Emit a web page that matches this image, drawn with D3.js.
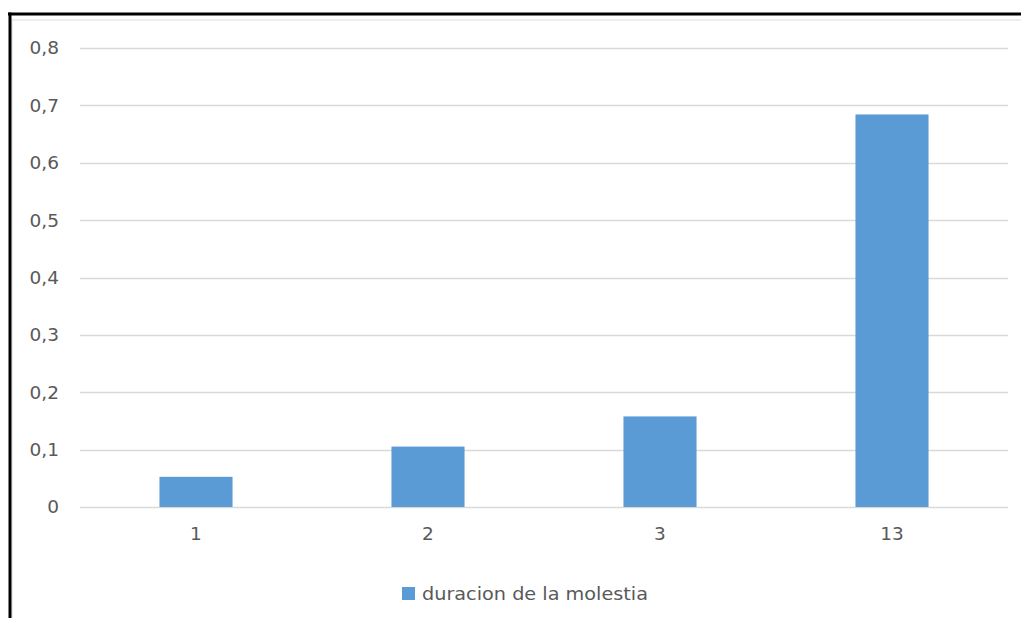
<!DOCTYPE html>
<html>
<head>
<meta charset="utf-8">
<script src="https://cdn.jsdelivr.net/npm/d3@7"></script>
<style>
  html, body { margin: 0; padding: 0; background: #fff; }
  svg { display: block; }
  text { font-family: "DejaVu Sans", sans-serif; fill: #595959; }
</style>
</head>
<body>
<svg id="chart" width="1021" height="618"></svg>
<script>
const categories = ["1", "2", "3", "13"];
const values = [0.0526, 0.1053, 0.1579, 0.6842];
const yTicks = [0, 0.1, 0.2, 0.3, 0.4, 0.5, 0.6, 0.7, 0.8];
const seriesName = "duracion de la molestia";

const svg = d3.select("#chart");
const W = 1021, H = 618;
const FONT = "'DejaVu Sans', sans-serif";
const FS = 18.5;

// frame
svg.append("rect").attr("x", 0).attr("y", 0).attr("width", W).attr("height", H).attr("fill", "#fff");
svg.append("rect").attr("x", 12).attr("y", 20).attr("width", W + 10).attr("height", H)
  .attr("fill", "none").attr("stroke", "#e3e3e3").attr("stroke-width", 1.2);
svg.append("line").attr("x1", 8).attr("x2", W).attr("y1", 14).attr("y2", 14)
  .attr("stroke", "#000").attr("stroke-width", 3);
svg.append("line").attr("x1", 10).attr("x2", 10).attr("y1", 12.5).attr("y2", H)
  .attr("stroke", "#000").attr("stroke-width", 3);

const x = d3.scaleBand().domain(categories).range([80, 1008])
  .paddingInner(0.685).paddingOuter(0.3425);
const y = d3.scaleLinear().domain([0, 0.8]).range([507, 48]);

const fmt = d => d === 0 ? "0" : d3.format(".1f")(d).replace(".", ",");

// gridlines
svg.append("g").selectAll("line").data(yTicks).join("line")
  .attr("x1", 80).attr("x2", 1008)
  .attr("y1", d => Math.round(y(d)) + 0.5).attr("y2", d => Math.round(y(d)) + 0.5)
  .attr("stroke", "#d9d9d9").attr("stroke-width", 1.3);

// y axis labels
const yAxis = d3.axisLeft(y).tickValues(yTicks).tickFormat(fmt).tickSize(0).tickPadding(0);
const gy = svg.append("g").attr("transform", "translate(59,0)").call(yAxis);
gy.select(".domain").remove();
gy.selectAll("text").attr("font-size", FS).attr("fill", "#595959").attr("font-family", FONT);

// bars
svg.append("g").selectAll("rect").data(values).join("rect")
  .attr("x", (d, i) => x(categories[i]))
  .attr("width", x.bandwidth())
  .attr("y", d => y(d))
  .attr("height", d => y(0) - y(d))
  .attr("fill", "#5b9bd5");

// x axis labels
const xAxis = d3.axisBottom(x).tickSize(0).tickPadding(0);
const gx = svg.append("g").attr("transform", "translate(0,527)").call(xAxis);
gx.select(".domain").remove();
gx.selectAll("text").attr("font-size", FS).attr("fill", "#595959").attr("font-family", FONT);

// legend
const lg = svg.append("g").attr("transform", "translate(402,587)");
lg.append("rect").attr("width", 13).attr("height", 13).attr("fill", "#5b9bd5");
lg.append("text").attr("x", 20).attr("y", 13).attr("font-size", FS)
  .attr("textLength", 226).attr("lengthAdjust", "spacingAndGlyphs").text(seriesName);
</script>
</body>
</html>
